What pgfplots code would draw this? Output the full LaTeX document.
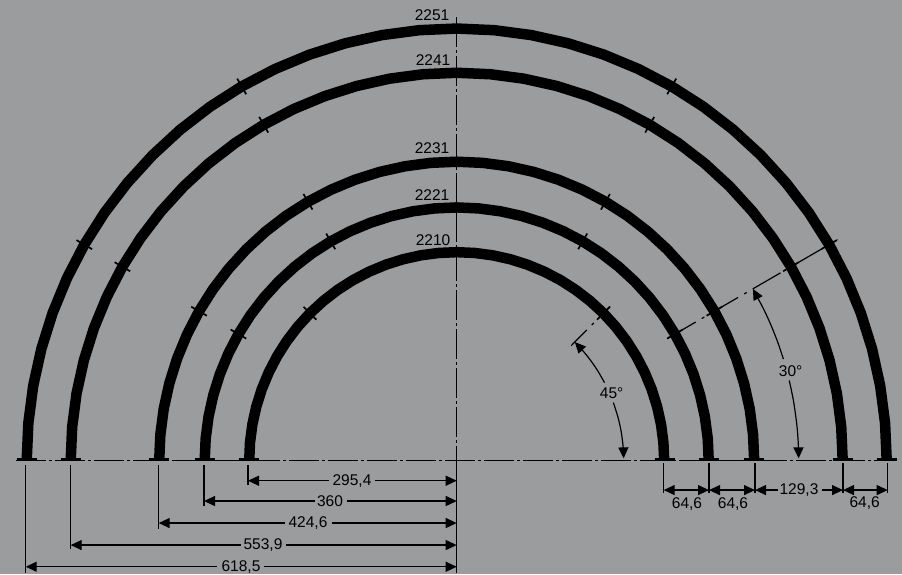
\documentclass[border=0pt]{standalone}
\usepackage{pgfplots}
\pgfplotsset{compat=1.18}
\usepackage{pgfplotstable}
\usepackage{fontspec}
\setmainfont{Liberation Sans}
\usetikzlibrary{arrows.meta}
\definecolor{bg}{RGB}{155,156,158}

% angle (deg) and radius of each track, as drawn
\pgfplotstableread{
angle r2251 r2241 r2231 r2221 r2210
0    430 386 297.5 252 207.5
5    430 386 297.5 252 207.5
10   430 386 297.5 252 207.5
15   430 386 297.5 252 207.5
20   430 386 297.5 252 207.5
25   430 386 297.5 252 207.5
30   430 386 297.5 252 207.5
35   430 386 297.5 252 207.5
40   430 386 297.5 252 207.5
45   430 386 297.5 252 207.5
50   430 386 297.5 252 207.5
55   430 386 297.5 252 207.5
60   430 386 297.5 252 207.5
65   430 386 297.5 252 207.5
70   430 386 297.5 252 207.5
75   430 386 297.5 252 207.5
80   430 386 297.5 252 207.5
85   430 386 297.5 252 207.5
90   430 386 297.5 252 207.5
95   430 386 297.5 252 207.5
100  430 386 297.5 252 207.5
105  430 386 297.5 252 207.5
110  430 386 297.5 252 207.5
115  430 386 297.5 252 207.5
120  430 386 297.5 252 207.5
125  430 386 297.5 252 207.5
130  430 386 297.5 252 207.5
135  430 386 297.5 252 207.5
140  430 386 297.5 252 207.5
145  430 386 297.5 252 207.5
150  430 386 297.5 252 207.5
155  430 386 297.5 252 207.5
160  430 386 297.5 252 207.5
165  430 386 297.5 252 207.5
170  430 386 297.5 252 207.5
175  430 386 297.5 252 207.5
180  430 386 297.5 252 207.5
}\arcs

\tikzset{
  track/.style={black, line width=10.5pt, line join=round},
  thin line/.style={black, line width=1.2pt},
  centre line/.style={black, line width=1.3pt, dash pattern=on 30pt off 3pt on 3pt off 3pt},
  both arrows/.style={thin line, {Triangle[length=11pt,width=10pt]}-{Triangle[length=11pt,width=10pt]}},
  left arrow/.style={thin line, {Triangle[length=11pt,width=10pt]}-},
  right arrow/.style={thin line, -{Triangle[length=11pt,width=10pt]}},
  lab/.style={font=\fontsize{15.5}{17}\selectfont, inner sep=0pt, text=black}
}
\pgfplotsset{cross/.style={data cs=polar, black, line width=1.7pt}}

\begin{document}
\begin{tikzpicture}
\fill[bg] (0,0) rectangle (902pt,574pt);
\begin{axis}[
  at={(0,0)}, anchor=south west,
  scale only axis, width=902pt, height=574pt,
  xmin=-456.7, xmax=445.3, ymin=-112.7, ymax=458.4,
  hide axis, unbounded coords=jump]

% tracks
\addplot[track, data cs=polar] table[x=angle, y=r2251] {\arcs};
\addplot[track, data cs=polar] table[x=angle, y=r2241] {\arcs};
\addplot[track, data cs=polar] table[x=angle, y=r2231] {\arcs};
\addplot[track, data cs=polar] table[x=angle, y=r2221] {\arcs};
\addplot[track, data cs=polar] table[x=angle, y=r2210] {\arcs};

% feet of the tracks
\addplot[black, line width=3pt] coordinates {
  (-440,1.2) (-420,1.2) (nan,nan) (-396,1.2) (-376,1.2) (nan,nan)
  (-308,1.2) (-288,1.2) (nan,nan) (-262,1.2) (-242,1.2) (nan,nan)
  (-218,1.2) (-198,1.2) (nan,nan)
  (198,1.2) (218,1.2) (nan,nan) (242,1.2) (262,1.2) (nan,nan)
  (287,1.2) (307,1.2) (nan,nan) (376,1.2) (396,1.2) (nan,nan)
  (420,1.2) (440,1.2)
};

% joint marks
\addplot[cross] coordinates {(30,421) (30,439)};
\addplot[cross] coordinates {(60,421) (60,439)};
\addplot[cross] coordinates {(120,421) (120,439)};
\addplot[cross] coordinates {(150,421) (150,439)};
\addplot[cross] coordinates {(30,377) (30,395)};
\addplot[cross] coordinates {(60,377) (60,395)};
\addplot[cross] coordinates {(120,377) (120,395)};
\addplot[cross] coordinates {(150,377) (150,395)};
\addplot[cross] coordinates {(30,288.5) (30,306.5)};
\addplot[cross] coordinates {(60,288.5) (60,306.5)};
\addplot[cross] coordinates {(120,288.5) (120,306.5)};
\addplot[cross] coordinates {(150,288.5) (150,306.5)};
\addplot[cross] coordinates {(30,243) (30,261)};
\addplot[cross] coordinates {(60,243) (60,261)};
\addplot[cross] coordinates {(120,243) (120,261)};
\addplot[cross] coordinates {(150,243) (150,261)};
\addplot[cross] coordinates {(45,198.5) (45,216.5)};
\addplot[cross] coordinates {(135,198.5) (135,216.5)};

% centre lines
\addplot[centre line] coordinates {(-440.7,0) (439.3,0)};
\addplot[centre line] coordinates {(0,441) (0,0)};
\addplot[thin line] coordinates {(0,0) (0,-111.7)};
\addplot[thin line, data cs=polar, dash pattern=on 32pt off 7pt on 3pt off 7pt] coordinates {(30,244) (30,440)};
\addplot[thin line, data cs=polar, dash pattern=on 22pt off 7pt on 3pt off 7pt] coordinates {(45,162) (45,217)};

% extension lines
\addplot[thin line] coordinates {
  (-431,-4.3) (-431,-111.7) (nan,nan)
  (-386,-4.3) (-386,-87.9) (nan,nan)
  (-298,-4.3) (-298,-68) (nan,nan)
  (-252.7,-4.3) (-252.7,-45.1) (nan,nan)
  (-208.7,-4.3) (-208.7,-24.2) (nan,nan)
  (207,-2.3) (207,-32) (nan,nan)
  (252.3,-2.3) (252.3,-32) (nan,nan)
  (298.3,-2.3) (298.3,-32) (nan,nan)
  (386.3,-2.3) (386.3,-32) (nan,nan)
  (431,-2.3) (431,-32)
};

% radii, left of the centre
\addplot[left arrow] coordinates {(-208.7,-19.9) (-127.4,-19.9)};
\addplot[right arrow] coordinates {(-81.7,-19.9) (0,-19.9)};
\addplot[left arrow] coordinates {(-252.7,-40.1) (-141.7,-40.1)};
\addplot[right arrow] coordinates {(-109.7,-40.1) (0,-40.1)};
\addplot[left arrow] coordinates {(-298,-62) (-171.7,-62)};
\addplot[right arrow] coordinates {(-125,-62) (0,-62)};
\addplot[left arrow] coordinates {(-386,-83.9) (-216,-83.9)};
\addplot[right arrow] coordinates {(-170.7,-83.9) (0,-83.9)};
\addplot[left arrow] coordinates {(-431,-105.5) (-240,-105.5)};
\addplot[right arrow] coordinates {(-192.4,-105.5) (0,-105.5)};

% spacing, right of the centre
\addplot[both arrows] coordinates {(207,-29.2) (252.3,-29.2)};
\addplot[both arrows] coordinates {(252.3,-29.2) (298.3,-29.2)};
\addplot[left arrow] coordinates {(298.3,-29.2) (321,-29.2)};
\addplot[right arrow] coordinates {(365.3,-29.2) (386.3,-29.2)};
\addplot[both arrows] coordinates {(386.3,-29.2) (431,-29.2)};

% angle dimensions
\addplot[right arrow, data cs=polar, smooth] coordinates {(27.7,167) (32,167) (36,167) (40,167) (45,167)};
\addplot[right arrow, data cs=polar, smooth] coordinates {(20.3,167) (15,167) (10,167) (5,167) (0.8,167)};
\addplot[right arrow, data cs=polar, smooth] coordinates {(17.2,342) (20,342) (23,342) (26,342) (30,342)};
\addplot[right arrow, data cs=polar, smooth] coordinates {(13.5,342) (10,342) (6,342) (3,342) (0.4,342)};

% labels
\node[lab] at (axis cs:-24.7,443.5) {2251};
\node[lab] at (axis cs:-23.7,398.7) {2241};
\node[lab] at (axis cs:-24.7,311.1) {2231};
\node[lab] at (axis cs:-24.7,264.4) {2221};
\node[lab] at (axis cs:-23.7,219.6) {2210};
\node[lab] at (axis cs:-104.7,-19.9) {295,4};
\node[lab] at (axis cs:-126.7,-40.1) {360};
\node[lab] at (axis cs:-148.7,-62) {424,6};
\node[lab] at (axis cs:-193.7,-83.9) {553,9};
\node[lab] at (axis cs:-215.7,-105.5) {618,5};
\node[lab] at (axis cs:230.3,-43) {64,6};
\node[lab] at (axis cs:276.3,-43) {64,6};
\node[lab] at (axis cs:342.3,-29.2) {129,3};
\node[lab] at (axis cs:408,-42) {64,6};
\node[lab] at (axis cs:155,67) {45°};
\node[lab] at (axis cs:334,89.6) {30°};
\end{axis}
\end{tikzpicture}
\end{document}
